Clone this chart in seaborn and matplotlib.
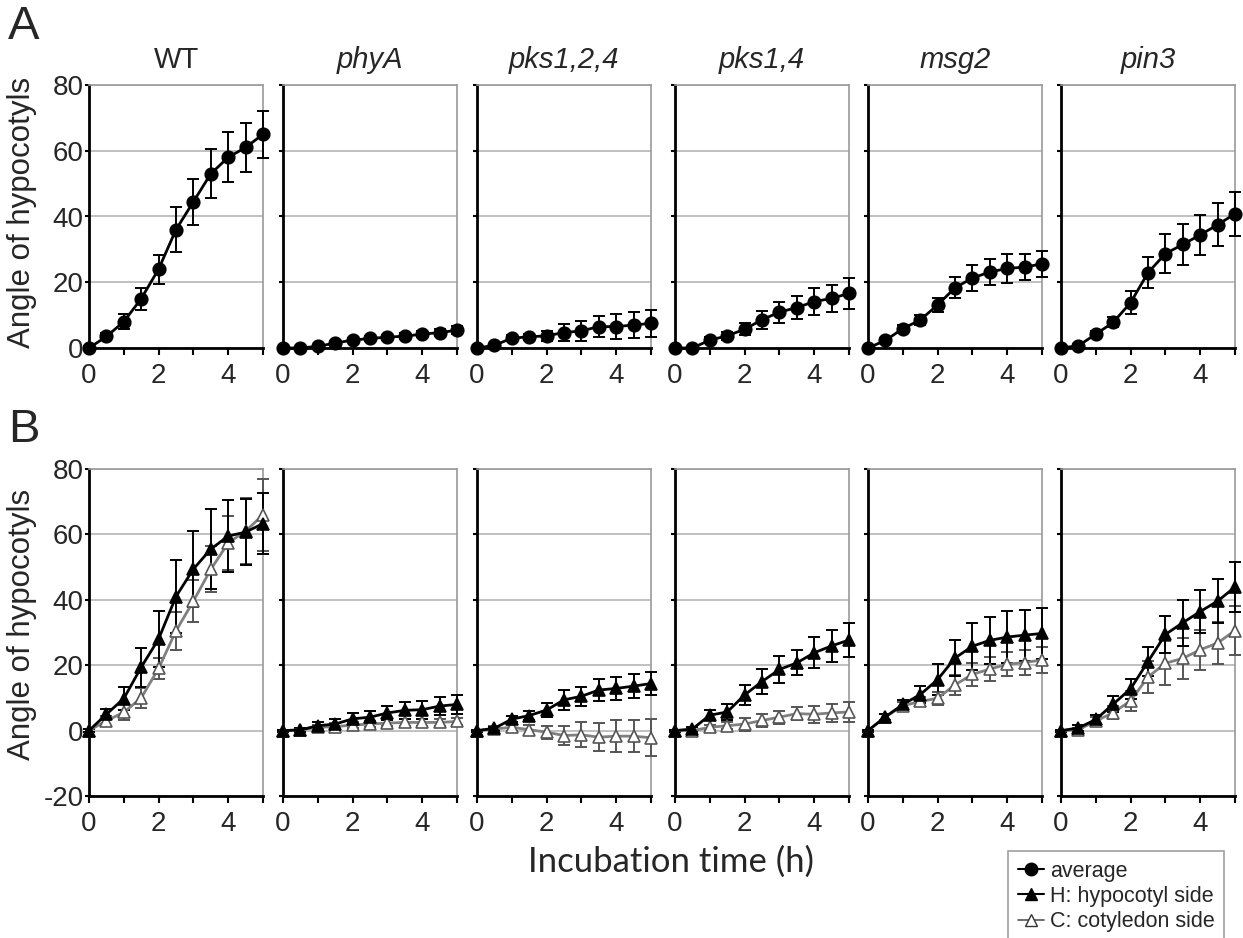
import pandas as pd
import matplotlib.pyplot as plt
import seaborn as sns
from matplotlib.lines import Line2D

# Time points (h)
times = [0, 0.5, 1, 1.5, 2, 2.5, 3, 3.5, 4, 4.5, 5]
genotypes = ['WT', 'phyA', 'pks1,2,4', 'pks1,4', 'msg2', 'pin3']

# Panel A: average angle (mean, error)
avg_mean = {
    'WT':       [0, 3.5, 8, 15, 24, 36, 44.5, 53, 58, 61, 65],
    'phyA':     [0, 0, 0.5, 1.5, 2.4, 2.9, 3.3, 3.6, 4.2, 4.7, 5.4],
    'pks1,2,4': [0, 0.8, 3, 3.4, 3.7, 4.7, 5.2, 6.5, 6.5, 7, 7.5],
    'pks1,4':   [0, 0, 2.4, 3.7, 5.7, 8.6, 10.9, 12.3, 14.1, 15.1, 16.6],
    'msg2':     [0, 2.3, 5.9, 8.5, 13.1, 18.3, 21.3, 23.1, 24.2, 24.6, 25.6],
    'pin3':     [0, 0.7, 4.2, 7.8, 13.8, 22.9, 28.7, 31.5, 34.4, 37.5, 40.8],
}
avg_err = {
    'WT':       [0.5, 1, 2.3, 3.3, 4.4, 6.8, 7, 7.4, 7.6, 7.4, 7.1],
    'phyA':     [0.3, 0.3, 0.5, 0.6, 0.7, 0.8, 0.8, 0.9, 1, 1, 1.2],
    'pks1,2,4': [0.3, 0.5, 1, 1, 1.5, 2.5, 3, 3.2, 3.8, 4, 4.1],
    'pks1,4':   [0.3, 0.4, 1, 1.2, 1.8, 2.7, 3.2, 3.6, 4.1, 4.2, 4.7],
    'msg2':     [0.3, 0.8, 1.2, 1.5, 2, 3.2, 4, 4, 4.4, 4, 4],
    'pin3':     [0.3, 0.6, 1, 1.5, 3.5, 4.8, 6, 6.2, 6, 6.5, 6.8],
}

# Panel B: hypocotyl side (H)
h_mean = {
    'WT':       [0, 5, 9.8, 19.4, 28, 41, 49.4, 55.5, 59.5, 60.7, 63.3],
    'phyA':     [0, 0.2, 1.5, 2, 3.6, 4.1, 5.4, 6.2, 6.4, 7.5, 8],
    'pks1,2,4': [0, 0.7, 3.5, 4.6, 6.3, 9.4, 10.5, 12.4, 12.9, 13.6, 14.4],
    'pks1,4':   [0, 0.5, 4.7, 5.7, 10.9, 15, 18.7, 20.7, 23.8, 25.9, 27.7],
    'msg2':     [0, 4.2, 8, 11, 15.6, 22.2, 25.8, 27.6, 28.6, 29.2, 29.7],
    'pin3':     [0, 0.8, 3.4, 8.1, 12.8, 21.1, 29.4, 33, 36.4, 39.6, 43.9],
}
h_err = {
    'WT':       [0.5, 1.5, 3.5, 6, 8.5, 11.3, 11.7, 12.2, 11, 10, 9.4],
    'phyA':     [0.3, 0.5, 1, 1.5, 1.8, 2, 2.2, 2.5, 2.8, 2.8, 3],
    'pks1,2,4': [0.3, 0.5, 1, 1.5, 2, 3, 2.9, 3.4, 3.6, 3.7, 3.6],
    'pks1,4':   [0.3, 0.5, 1.5, 2.4, 3.1, 3.9, 4.2, 3.8, 4.8, 4.9, 5.3],
    'msg2':     [0.3, 1, 1.5, 2.5, 4.7, 5.6, 7.2, 7.2, 8, 7.8, 7.8],
    'pin3':     [0.3, 0.8, 1.5, 2.5, 3.1, 4.4, 5.6, 7, 6.5, 6.7, 7.6],
}

# Panel B: cotyledon side (C)
c_mean = {
    'WT':       [0, 3, 5.6, 10, 19, 30.5, 39.6, 49.3, 57.4, 61, 66],
    'phyA':     [0, 0.2, 1, 1.2, 1.7, 2, 2.3, 2.5, 2.5, 2.5, 2.8],
    'pks1,2,4': [0, 0.5, 1, 0.3, -0.5, -1.5, -1.3, -2, -1.7, -1.7, -2.2],
    'pks1,4':   [0, 0, 1, 1.5, 2, 3.1, 4.1, 5.2, 5, 5.4, 5.7],
    'msg2':     [0, 4.2, 7.6, 8.9, 9.9, 14, 17.2, 18.8, 20.3, 20.8, 21.6],
    'pin3':     [0, 0.3, 2.9, 5.5, 9.1, 16.4, 20.6, 22.1, 24.7, 26.8, 30.6],
}
c_err = {
    'WT':       [0.5, 1.5, 2.5, 3, 3.2, 5.8, 6.4, 7, 8.2, 10, 11],
    'phyA':     [0.3, 0.5, 0.8, 1, 1, 1, 1, 1, 1, 1, 1.2],
    'pks1,2,4': [0.3, 0.8, 1.2, 1.5, 2, 3, 3.8, 4.3, 4.8, 4.8, 5.7],
    'pks1,4':   [0.3, 0.3, 0.8, 1, 2, 2, 2, 2, 2.6, 2.8, 3.1],
    'msg2':     [0.3, 1, 1.2, 1.5, 2, 3, 3.6, 3.7, 3.6, 3.8, 4],
    'pin3':     [0.3, 0.6, 1.2, 2, 3, 4.9, 6.7, 6.3, 6.2, 6.4, 7.4],
}

sns.set_style('white')
plt.rcParams['font.family'] = ['Liberation Sans', 'DejaVu Sans']
plt.rcParams['axes.unicode_minus'] = False

W, H = 1243, 938
fig = plt.figure(figsize=(W / 100, H / 100), dpi=100)

lefts = [89, 283, 477, 675, 868, 1061]
panel_w = 174

styles = {
    'avg': dict(color='black', marker='o', mfc='black', mec='black', ecolor='black'),
    'H': dict(color='black', marker='^', mfc='black', mec='black', ecolor='black'),
    'C': dict(color='#808080', marker='^', mfc='white', mec='#555555', ecolor='#555555'),
}


def draw_series(ax, y, err, kind):
    st = styles[kind]
    ax.errorbar(times, y, yerr=err, fmt='none', ecolor=st['ecolor'], elinewidth=1.4,
                capsize=4, capthick=1.4, clip_on=False, zorder=3)
    df = pd.DataFrame({'time': times, 'angle': y})
    sns.lineplot(data=df, x='time', y='angle', ax=ax, color=st['color'], marker=st['marker'],
                 markersize=9, mfc=st['mfc'], mec=st['mec'], mew=1.2, lw=2,
                 clip_on=False, zorder=4)


def style_axes(ax, ymin, ymax, show_y):
    ax.set_xlim(0, 5)
    ax.set_ylim(ymin, ymax)
    ax.set_xticks([0, 1, 2, 3, 4, 5])
    ax.set_xticklabels(['0', '', '2', '', '4', ''])
    ax.set_yticks(list(range(ymin, ymax + 1, 20)))
    if not show_y:
        ax.set_yticklabels([])
    ax.yaxis.grid(True, color='#b5b5b5', lw=1.2)
    ax.xaxis.grid(False)
    ax.set_axisbelow(True)
    ax.set_xlabel('')
    ax.set_ylabel('')
    for s in ['top', 'right']:
        ax.spines[s].set_color('#9a9a9a')
        ax.spines[s].set_linewidth(1.2)
    for s in ['left', 'bottom']:
        ax.spines[s].set_color('black')
        ax.spines[s].set_linewidth(2)
    ax.tick_params(axis='x', direction='out', length=5, width=1.5, pad=6,
                   labelsize=20, bottom=True, color='black')
    ax.tick_params(axis='y', direction='out', length=3, width=1.5, pad=1,
                   labelsize=20, left=True, color='black')


# Row A
rowA_bottom, rowA_top = 348, 85
for i, g in enumerate(genotypes):
    ax = fig.add_axes([lefts[i] / W, 1 - rowA_bottom / H, panel_w / W, (rowA_bottom - rowA_top) / H])
    draw_series(ax, avg_mean[g], avg_err[g], 'avg')
    style_axes(ax, 0, 80, i == 0)
    ax.set_title(g, fontsize=21, pad=12, fontstyle='normal' if g == 'WT' else 'italic')

# Row B
rowB_bottom, rowB_top = 796, 469
for i, g in enumerate(genotypes):
    ax = fig.add_axes([lefts[i] / W, 1 - rowB_bottom / H, panel_w / W, (rowB_bottom - rowB_top) / H])
    draw_series(ax, c_mean[g], c_err[g], 'C')
    draw_series(ax, h_mean[g], h_err[g], 'H')
    style_axes(ax, -20, 80, i == 0)

# Labels
fig.text(8 / W, 1 - 27 / H, 'A', fontsize=34, ha='left', va='center')
fig.text(8 / W, 1 - 430 / H, 'B', fontsize=34, ha='left', va='center')
fig.text(22 / W, 1 - 212 / H, 'Angle of hypocotyls', fontsize=22.5, rotation=90,
         ha='center', va='center')
fig.text(22 / W, 1 - 624 / H, 'Angle of hypocotyls', fontsize=22.5, rotation=90,
         ha='center', va='center')
fig.text(671 / W, 1 - 862 / H, 'Incubation time (h)', fontsize=25,
         family=['Lato', 'DejaVu Sans'], ha='center', va='center')

handles = [
    Line2D([], [], color='black', marker='o', mfc='black', mec='black', ms=9, lw=1.5),
    Line2D([], [], color='black', marker='^', mfc='black', mec='black', ms=9, lw=1.5),
    Line2D([], [], color='#555555', marker='^', mfc='white', mec='#333333', ms=9, lw=1.2),
]
leg = fig.legend(handles, ['average', 'H: hypocotyl side', 'C: cotyledon side'],
                 loc='upper left', bbox_to_anchor=(1008 / W, 1 - 851 / H),
                 fontsize=15.5, frameon=True, fancybox=False, handlelength=1.2,
                 handletextpad=0.3, borderpad=0.45, labelspacing=0.2,
                 borderaxespad=0)
leg.get_frame().set_edgecolor('#888888')
leg.get_frame().set_linewidth(1.2)

fig.savefig('out.png', dpi=100)
